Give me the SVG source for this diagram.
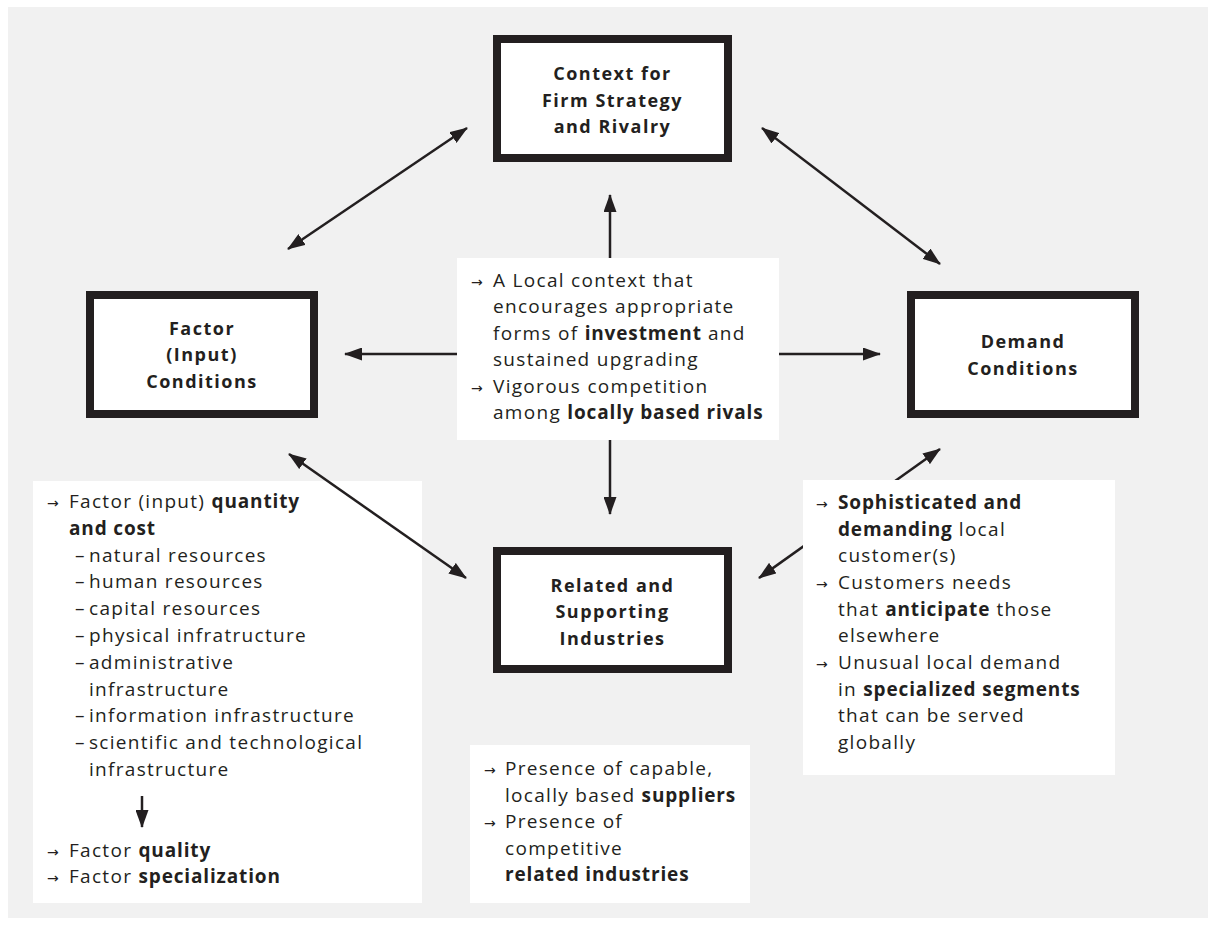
<svg xmlns="http://www.w3.org/2000/svg" width="1216" height="926" viewBox="0 0 1216 926">
<defs>
<style>
.bg{fill:#f1f1f1}
.box{fill:#fff;stroke:#231f20;stroke-width:8}
.panel{fill:#fff}
.t{font-family:"Open Sans","Liberation Sans",sans-serif;font-size:19px;fill:#231f20;letter-spacing:1.3px}
.title{font-family:"Open Sans","Liberation Sans",sans-serif;font-size:18px;font-weight:700;fill:#231f20;letter-spacing:1.5px;text-anchor:middle}
.b{font-weight:700;letter-spacing:0.85px}
.ar{font-family:"DejaVu Sans",sans-serif;font-size:14px;letter-spacing:0}
.c{stroke:#231f20;stroke-width:2.5;fill:none}
</style>
<marker id="ah" viewBox="0 0 18 13" refX="17" refY="6.5" markerWidth="18" markerHeight="13" markerUnits="userSpaceOnUse" orient="auto-start-reverse">
<path d="M0,0 L18,6.5 L0,13 z" fill="#231f20"/>
</marker>
</defs>
<rect class="bg" x="8" y="7" width="1200" height="911"/>

<g id="factor-text">
<rect class="panel" x="33" y="481" width="389" height="422"/>
<text class="t">
<tspan x="47" y="508" class="ar">→</tspan><tspan x="69" y="508">Factor (input) <tspan class="b">quantity</tspan></tspan>
<tspan x="69" y="535" class="b">and cost</tspan>
<tspan x="75" y="562">–</tspan><tspan x="89" y="562">natural resources</tspan>
<tspan x="75" y="588">–</tspan><tspan x="89" y="588">human resources</tspan>
<tspan x="75" y="615">–</tspan><tspan x="89" y="615">capital resources</tspan>
<tspan x="75" y="642">–</tspan><tspan x="89" y="642">physical infratructure</tspan>
<tspan x="75" y="669">–</tspan><tspan x="89" y="669">administrative</tspan>
<tspan x="89" y="696">infrastructure</tspan>
<tspan x="75" y="722">–</tspan><tspan x="89" y="722">information infrastructure</tspan>
<tspan x="75" y="749">–</tspan><tspan x="89" y="749">scientific and technological</tspan>
<tspan x="89" y="776">infrastructure</tspan>
<tspan x="47" y="857" class="ar">→</tspan><tspan x="69" y="857">Factor <tspan class="b">quality</tspan></tspan>
<tspan x="47" y="883" class="ar">→</tspan><tspan x="69" y="883">Factor <tspan class="b">specialization</tspan></tspan>
</text>
<line class="c" x1="142" y1="796" x2="142" y2="827" marker-end="url(#ah)"/>
</g>

<g id="connectors">
<line class="c" x1="288" y1="249" x2="467" y2="128" marker-start="url(#ah)" marker-end="url(#ah)"/>
<line class="c" x1="762" y1="128" x2="940" y2="264" marker-start="url(#ah)" marker-end="url(#ah)"/>
<line class="c" x1="289" y1="454" x2="466" y2="578" marker-start="url(#ah)" marker-end="url(#ah)"/>
<line class="c" x1="940" y1="449" x2="759" y2="578" marker-start="url(#ah)" marker-end="url(#ah)"/>
<line class="c" x1="610" y1="258" x2="610" y2="195" marker-end="url(#ah)"/>
<line class="c" x1="457" y1="354" x2="345" y2="354" marker-end="url(#ah)"/>
<line class="c" x1="779" y1="354" x2="880" y2="354" marker-end="url(#ah)"/>
<line class="c" x1="610" y1="440" x2="610" y2="514" marker-end="url(#ah)"/>
</g>

<g id="context">
<rect class="box" x="497" y="39" width="231" height="119"/>
<text class="title"><tspan x="612.5" y="80">Context for</tspan><tspan x="612.5" y="107">Firm Strategy</tspan><tspan x="612.5" y="133">and Rivalry</tspan></text>
</g>

<g id="factor">
<rect class="box" x="90" y="295" width="224" height="119"/>
<text class="title"><tspan x="202" y="335">Factor</tspan><tspan x="202" y="361">(Input)</tspan><tspan x="202" y="388">Conditions</tspan></text>
</g>

<g id="demand">
<rect class="box" x="911" y="295" width="224" height="119"/>
<text class="title"><tspan x="1023" y="348">Demand</tspan><tspan x="1023" y="375">Conditions</tspan></text>
</g>

<g id="related">
<rect class="box" x="497" y="551" width="231" height="118"/>
<text class="title"><tspan x="612.5" y="592">Related and</tspan><tspan x="612.5" y="618">Supporting</tspan><tspan x="612.5" y="645">Industries</tspan></text>
</g>

<g id="context-text">
<rect class="panel" x="457" y="258" width="322" height="182"/>
<text class="t">
<tspan x="471" y="287" class="ar">→</tspan><tspan x="493" y="287">A Local context that</tspan>
<tspan x="493" y="313">encourages appropriate</tspan>
<tspan x="493" y="340">forms of <tspan class="b">investment</tspan> and</tspan>
<tspan x="493" y="366">sustained upgrading</tspan>
<tspan x="471" y="393" class="ar">→</tspan><tspan x="493" y="393">Vigorous competition</tspan>
<tspan x="493" y="419">among <tspan class="b">locally based rivals</tspan></tspan>
</text>
</g>

<g id="demand-text">
<rect class="panel" x="803" y="480" width="312" height="295"/>
<text class="t">
<tspan x="816" y="509" class="ar">→</tspan><tspan x="838" y="509" class="b">Sophisticated and</tspan>
<tspan x="838" y="536"><tspan class="b">demanding</tspan> local</tspan>
<tspan x="838" y="562">customer(s)</tspan>
<tspan x="816" y="589" class="ar">→</tspan><tspan x="838" y="589">Customers needs</tspan>
<tspan x="838" y="616">that <tspan class="b">anticipate</tspan> those</tspan>
<tspan x="838" y="642">elsewhere</tspan>
<tspan x="816" y="669" class="ar">→</tspan><tspan x="838" y="669">Unusual local demand</tspan>
<tspan x="838" y="696">in <tspan class="b">specialized segments</tspan></tspan>
<tspan x="838" y="722">that can be served</tspan>
<tspan x="838" y="749">globally</tspan>
</text>
</g>

<g id="related-text">
<rect class="panel" x="470" y="745" width="280" height="158"/>
<text class="t">
<tspan x="484" y="775" class="ar">→</tspan><tspan x="505" y="775">Presence of capable,</tspan>
<tspan x="505" y="802">locally based <tspan class="b">suppliers</tspan></tspan>
<tspan x="484" y="828" class="ar">→</tspan><tspan x="505" y="828">Presence of</tspan>
<tspan x="505" y="855">competitive</tspan>
<tspan x="505" y="881" class="b">related industries</tspan>
</text>
</g>
</svg>
